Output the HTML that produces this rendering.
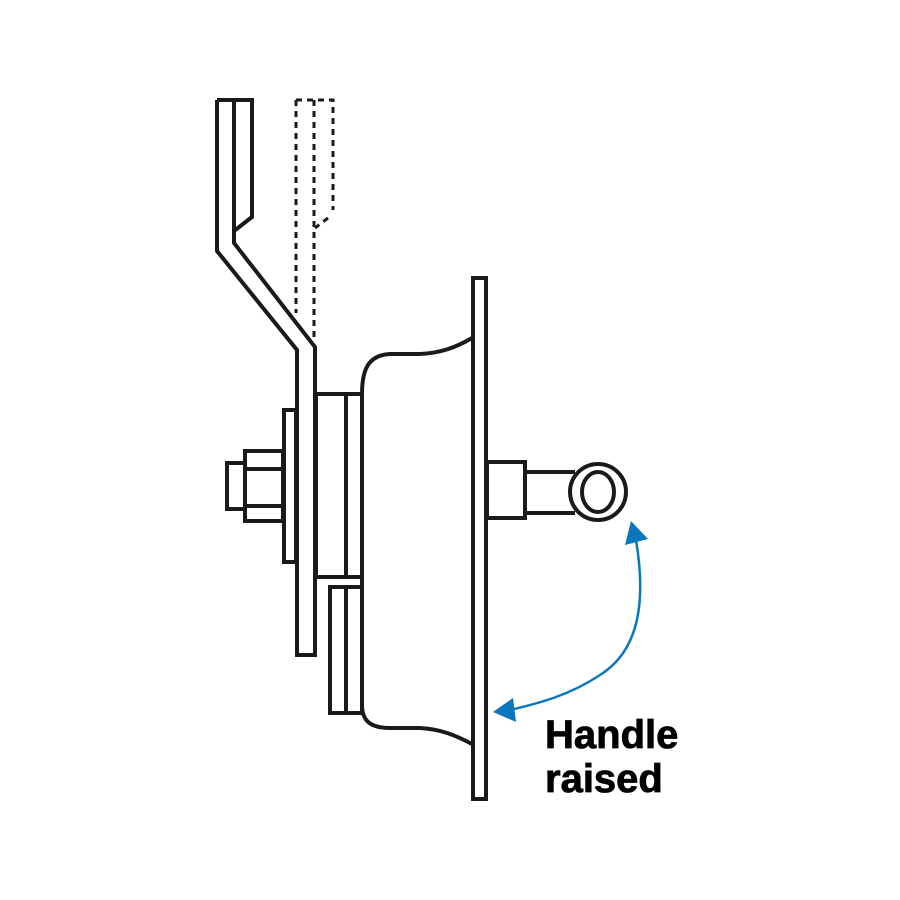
<!DOCTYPE html>
<html><head><style>body{margin:0;background:#fff}svg{display:block}</style></head>
<body>
<svg width="900" height="900" viewBox="0 0 900 900" xmlns="http://www.w3.org/2000/svg">
<rect width="900" height="900" fill="#fff"/>
<g fill="none" stroke="#1a1a1a" stroke-width="4" stroke-linejoin="miter">
<polyline points="217,100 217,251 297,350 297,655 315,655 315,347 234,243 234,100"/>
<polyline points="217,100 252,100 252,217 234,231"/>
<rect x="284" y="410" width="12" height="152"/>
<rect x="245" y="451" width="38" height="70"/>
<line x1="245" y1="469" x2="283" y2="469"/>
<line x1="245" y1="506" x2="283" y2="506"/>
<rect x="227" y="463" width="18" height="46"/>
<rect x="316" y="394" width="46" height="183"/>
<line x1="346" y1="394" x2="346" y2="577"/>
<rect x="330" y="587" width="32" height="126"/>
<line x1="346" y1="587" x2="346" y2="713"/>
<path d="M362,394 C362,370 368,355 390,354 L420,354 C440,353 455,348 472,338"/>
<path d="M362,577 L362,705 C362,722 372,728 390,728 L420,728 C440,729 455,735 472,744"/>
<rect x="473" y="278" width="13" height="521"/>
<rect x="487" y="462" width="38" height="56"/>
<line x1="525" y1="472" x2="575" y2="472"/>
<line x1="525" y1="513" x2="575" y2="513"/>
<ellipse cx="598" cy="492" rx="28" ry="28" fill="#fff"/>
<ellipse cx="598" cy="492" rx="16" ry="20"/>
</g>
<g fill="none" stroke="#1a1a1a" stroke-width="3" stroke-dasharray="6,5">
<line x1="296" y1="100" x2="296" y2="313"/>
<line x1="314" y1="100" x2="314" y2="338"/>
<polyline points="296,100 333,100 333,210"/>
<line x1="328" y1="218" x2="315" y2="228"/>
</g>
<path d="M636,540 C646,600 640,650 600,675 C570,695 540,703 510,710" fill="none" stroke="#0a77bd" stroke-width="2.5"/>
<polygon points="631,521 625,545 648,539" fill="#0a77bd"/>
<polygon points="493,712 513,698 516,722" fill="#0a77bd"/>
<text x="545" y="748" font-family="Liberation Sans, sans-serif" font-weight="bold" font-size="40" fill="#000" stroke="#000" stroke-width="0.8">Handle</text>
<text x="545" y="792" font-family="Liberation Sans, sans-serif" font-weight="bold" font-size="40" fill="#000" stroke="#000" stroke-width="0.8">raised</text>
</svg>
</body></html>
